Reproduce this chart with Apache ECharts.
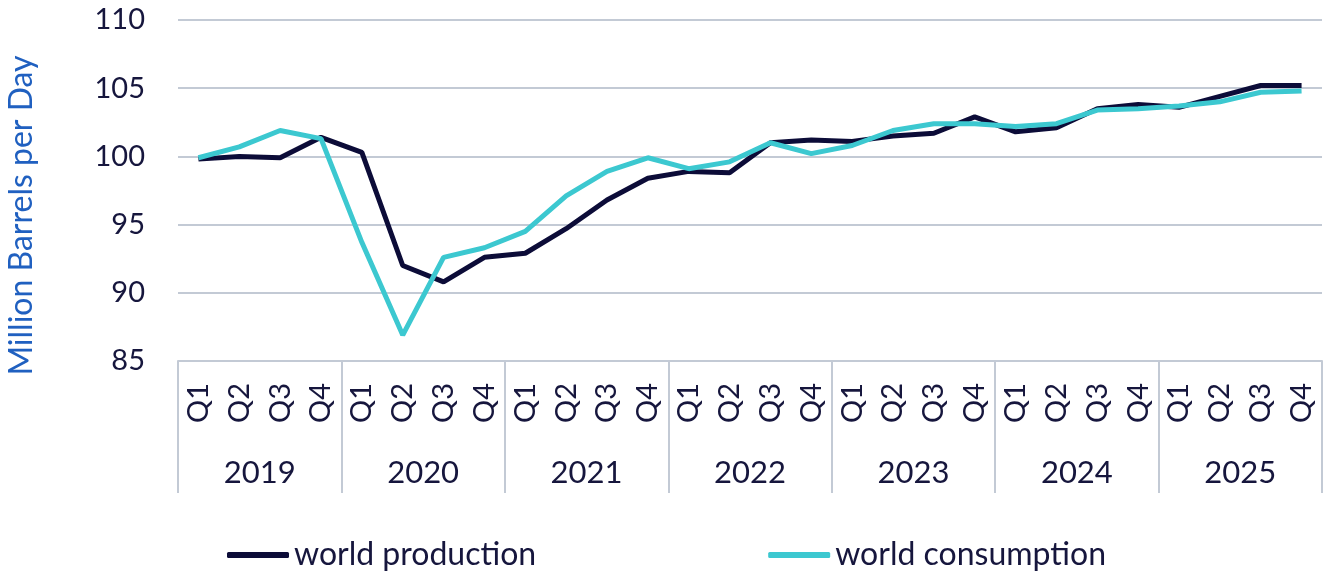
<!DOCTYPE html>
<html><head><meta charset="utf-8">
<script src="https://cdn.jsdelivr.net/npm/echarts@6/dist/echarts.min.js"></script>
<style>html,body{margin:0;padding:0;background:#fff}#c{width:1325px;height:572px}</style>
</head><body><div id="c"></div>
<script>
const quarters = ["Q1","Q2","Q3","Q4"];
const years = ["2019","2020","2021","2022","2023","2024","2025"];
const production = [99.8,100.0,99.9,101.4,100.3,92.0,90.8,92.6,92.9,94.7,96.8,98.4,98.9,98.8,101.0,101.2,101.1,101.5,101.7,102.9,101.8,102.1,103.5,103.8,103.6,104.4,105.2,105.2];
const consumption = [99.9,100.7,101.9,101.3,93.7,86.9,92.6,93.3,94.5,97.1,98.9,99.9,99.1,99.6,101.0,100.2,100.8,101.9,102.4,102.4,102.2,102.4,103.4,103.5,103.7,104.0,104.7,104.8];
const yTicks = {min:85, max:110, interval:5};

const qCats = [];
years.forEach(y => quarters.forEach(q => qCats.push(q)));
const FONT = 'Lato';
const TXT = '#16163d';
const chart = echarts.init(document.getElementById('c'));
chart.setOption({
  animation:false,
  textStyle:{fontFamily:FONT},
  grid:{left:178, right:3, top:20, bottom:211, containLabel:false, outerBoundsMode:'none'},
  legend:{
    top:534, left:222, itemGap:232, itemWidth:62, itemHeight:6, icon:'roundRect',
    textStyle:{fontFamily:FONT, fontSize:32, color:TXT},
    data:['world production','world consumption']
  },
  xAxis:[
    {type:'category', data:qCats, position:'bottom', boundaryGap:true,
     axisLine:{show:false}, axisTick:{show:false},
     axisLabel:{rotate:90, fontSize:29, color:TXT, margin:22, interval:0, fontFamily:FONT}},
    {type:'category', data:years, position:'bottom', boundaryGap:true,
     axisLine:{show:true, lineStyle:{color:'#c3cad5', width:2}},
     axisTick:{show:true, length:132, interval:0, lineStyle:{color:'#c3cad5', width:2}},
     axisLabel:{fontSize:31, color:TXT, margin:96, interval:0, fontFamily:FONT}}
  ],
  yAxis:{type:'value', min:yTicks.min, max:yTicks.max, interval:yTicks.interval,
    name:'Million Barrels per Day', nameLocation:'middle', nameGap:140, nameRotate:90,
    nameTextStyle:{fontSize:32, color:'#2060c0', fontFamily:FONT, padding:[0,50,0,0]},
    axisLine:{show:false}, axisTick:{show:false},
    axisLabel:{fontSize:29, color:TXT, margin:33, fontFamily:FONT},
    splitLine:{lineStyle:{color:'#c3cad5', width:2}}
  },
  series:[
    {name:'world production', type:'line', data:production, xAxisIndex:0, showSymbol:false,
     lineStyle:{color:'#0c0c38', width:5}, itemStyle:{color:'#0c0c38'}},
    {name:'world consumption', type:'line', data:consumption, xAxisIndex:0, showSymbol:false,
     lineStyle:{color:'#3cc8d0', width:5}, itemStyle:{color:'#3cc8d0'}}
  ]
});
</script></body></html>
